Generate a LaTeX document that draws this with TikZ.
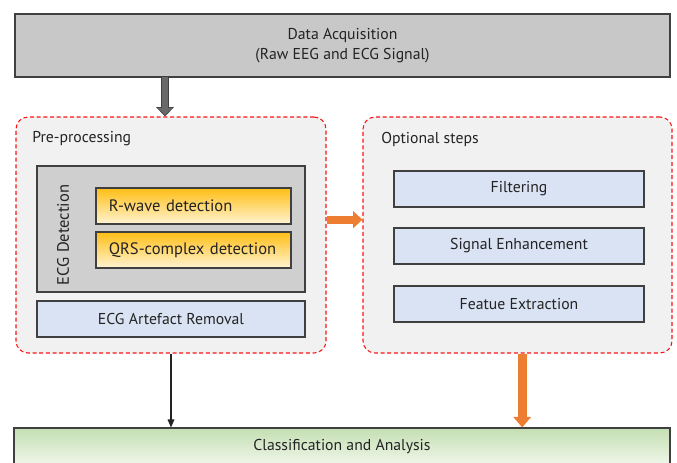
\documentclass[tikz,border=0pt]{standalone}
\usepackage{fontspec}
\setmainfont{PT Sans}
\usetikzlibrary{arrows.meta,calc}
\definecolor{boxline}{RGB}{64,64,64}
\definecolor{txtdark}{RGB}{35,35,35}
\definecolor{acqgray}{RGB}{200,200,200}
\definecolor{detgray}{RGB}{207,207,207}
\definecolor{panelgray}{RGB}{241,241,241}
\definecolor{stepblue}{RGB}{218,227,243}
\definecolor{dashred}{RGB}{250,20,20}
\definecolor{arrorange}{RGB}{237,125,49}
\definecolor{arrgray}{RGB}{105,105,105}
\definecolor{orangetop}{RGB}{255,190,20}
\definecolor{orangebot}{RGB}{255,244,210}
\definecolor{greentop}{RGB}{196,223,178}
\definecolor{greenbot}{RGB}{238,246,233}
\tikzset{
  plainbox/.style={draw=boxline, line width=0.8pt, text=txtdark, inner sep=0pt},
  panelbox/.style={draw=dashred, line width=0.8pt, dash pattern=on 3pt off 2pt, fill=panelgray, rounded corners=9pt, inner sep=0pt},
  stepbox/.style={plainbox, fill=stepblue, minimum width=187.5pt, minimum height=27pt},
  detectbox/.style={plainbox, top color=orangetop, bottom color=orangebot, minimum width=146.25pt, minimum height=27pt, text width=127pt, align=left, font=\fontsize{12.4}{14}\selectfont},
  lbl/.style={text=txtdark, inner sep=0pt},
}
\begin{document}
\begin{tikzpicture}[x=0.75pt,y=0.75pt,yscale=-1,xscale=1,font=\fontsize{11.8}{14.5}\selectfont]
\useasboundingbox (0,0) rectangle (677,462);

%Box: data acquisition
\node [plainbox, fill=acqgray, minimum width=491.25pt, minimum height=47.25pt, align=center] (acq) at (342.5,45.5) {Data Acquisition\\(Raw EEG and ECG Signal)};

%Panel: pre-processing
\node [panelbox, minimum width=232.5pt, minimum height=177pt] (pre) at (171,235) {};
\node [lbl, anchor=west] (prelbl) at (32,139) {Pre-processing};
\node [plainbox, fill=detgray, minimum width=201pt, minimum height=94.5pt] (det) at (171,229) {};
\node [lbl, rotate=90, font=\fontsize{12.4}{14}\selectfont] (detlbl) at (63,235) {ECG Detection};
\node [detectbox] (rwave) at (193.5,206) {R-wave detection};
\node [detectbox] (qrs) at (193.5,250) {QRS-complex detection};
\node [stepbox, minimum width=201pt] (art) at (171,319) {ECG Artefact Removal};

%Panel: optional steps
\node [panelbox, minimum width=231.75pt, minimum height=177pt] (opt) at (517.5,235) {};
\node [lbl, anchor=west] (optlbl) at (381,139) {Optional steps};
\node [stepbox] (filt) at (519,189) {Filtering};
\node [stepbox] (enh) at (519,246) {Signal Enhancement};
\node [stepbox] (feat) at (519,304) {Featue Extraction};

%Box: classification
\node [plainbox, top color=greentop, bottom color=greenbot, minimum width=492pt, minimum height=27pt] (cls) at (342,446) {Classification and Analysis};

%Arrows
\draw [boxline, line width=6.5pt, -{Triangle[width=13pt,length=7pt]}] ([xshift=-4.5pt]acq.south -| pre.north) -- ([xshift=-4.5pt]pre.north);
\draw [arrgray, line width=4.5pt, -{Triangle[width=10.5pt,length=5.5pt]}, shorten >=0.9pt] ([xshift=-4.5pt,yshift=-0.6pt]acq.south -| pre.north) -- ([xshift=-4.5pt]pre.north);
\draw [arrorange, line width=6pt, -{Triangle[width=12.5pt,length=7pt]}] ([yshift=-11.5pt]pre.east) -- ([yshift=-11.5pt]opt.west);
\draw [arrorange, line width=7pt, -{Triangle[width=13pt,length=8pt]}] ([xshift=3.5pt]opt.south) -- ([xshift=3.5pt]opt.south |- cls.north);
\draw [txtdark, line width=0.8pt, -{Triangle[width=5pt,length=6pt]}] (pre.south) -- (pre.south |- cls.north);
\end{tikzpicture}
\end{document}
